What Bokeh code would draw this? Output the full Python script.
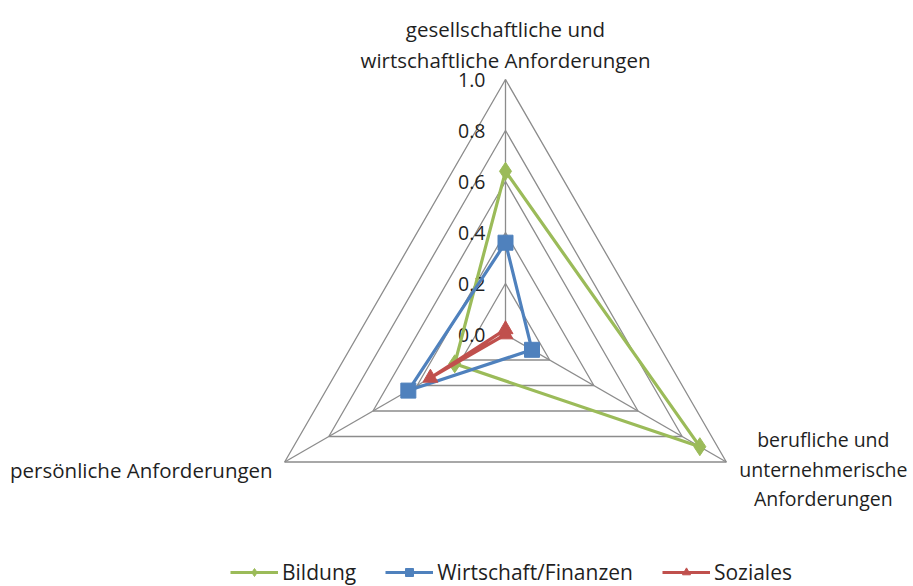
import numpy as np
from bokeh.plotting import figure
from bokeh.models import Legend, LegendItem, Range1d
from bokeh.core.properties import value
from bokeh.embed import file_html
from bokeh.resources import INLINE

categories = ["gesellschaftliche und\nwirtschaftliche Anforderungen",
              "berufliche und\nunternehmerische\nAnforderungen",
              "persönliche Anforderungen"]
tick_values = [0.0, 0.2, 0.4, 0.6, 0.8, 1.0]
tick_labels = ["0.0", "0.2", "0.4", "0.6", "0.8", "1.0"]
bildung = [0.64, 0.88, 0.23]
wirtschaft = [0.36, 0.12, 0.44]
soziales = [0.02, 0.0, 0.34]

FONT = "Open Sans"
W, H = 910, 586
PX = 255.0            # pixels per unit radius
CX, CY = 505.0, 334.0  # center in figure pixels

p = figure(width=W, height=H, output_backend="svg", toolbar_location=None,
           x_range=Range1d(-CX / PX, (W - CX) / PX),
           y_range=Range1d(-(H - CY) / PX, CY / PX),
           min_border=0)
p.axis.visible = False
p.grid.visible = False
p.outline_line_color = None
p.background_fill_color = "white"

angles = np.deg2rad([90, -30, 210])
n = len(categories)

def xy(vals):
    v = np.asarray(vals, dtype=float)
    return v * np.cos(angles), v * np.sin(angles)

# grid triangles
for t in tick_values[1:]:
    gx, gy = xy([t] * n)
    p.line(list(gx) + [gx[0]], list(gy) + [gy[0]], line_color="#8c8c8c", line_width=1.3)
# spokes
for i in range(n):
    p.line([0, np.cos(angles[i])], [0, np.sin(angles[i])], line_color="#8c8c8c", line_width=1.3)

TXT = "#1f1f1f"
FS = "20.5px"
# tick labels
p.text(x=[-20 / PX] * len(tick_values), y=tick_values, text=tick_labels,
       text_align="right", text_baseline="middle",
       text_font=value(FONT), text_font_size="19.5px", text_color=TXT)

# category labels
p.text(x=[0.0], y=[1.0 + 5 / PX], text=[categories[0]], text_align="center",
       text_baseline="bottom", text_font=value(FONT), text_font_size=FS,
       text_color=TXT, text_line_height=1.12)
p.text(x=[np.cos(angles[1]) + 97 / PX], y=[np.sin(angles[1]) + 36 / PX], text=[categories[1]],
       text_align="center", text_baseline="top", text_font=value(FONT),
       text_font_size="19.5px", text_color=TXT, text_line_height=1.1)
p.text(x=[np.cos(angles[2]) - 12 / PX], y=[np.sin(angles[2]) - 8 / PX], text=[categories[2]],
       text_align="right", text_baseline="middle", text_font=value(FONT),
       text_font_size=FS, text_color=TXT)

series = [("Bildung", bildung, "#9BBB59", "diamond", 18),
          ("Wirtschaft/Finanzen", wirtschaft, "#4F81BD", "square", 15),
          ("Soziales", soziales, "#C0504D", "triangle", 15)]
items = []
for name, vals, col, mk, sz in series:
    sx, sy = xy(vals)
    lx = list(sx) + [sx[0]]
    ly = list(sy) + [sy[0]]
    r1 = p.line(lx, ly, line_color=col, line_width=3.2)
    r2 = p.scatter(list(sx), list(sy), marker=mk, size=sz, fill_color=col, line_color=col)
    items.append(LegendItem(label=name, renderers=[r1, r2]))

legend = Legend(items=items, orientation="horizontal", location=(230, 0),
                glyph_width=48, glyph_height=20, label_text_font=FONT,
                label_text_font_size="21px", label_text_color=TXT,
                spacing=29, padding=0, label_standoff=4, margin=0,
                border_line_alpha=0, background_fill_alpha=0)
p.add_layout(legend)

open("out.html", "w").write(file_html(p, INLINE))
